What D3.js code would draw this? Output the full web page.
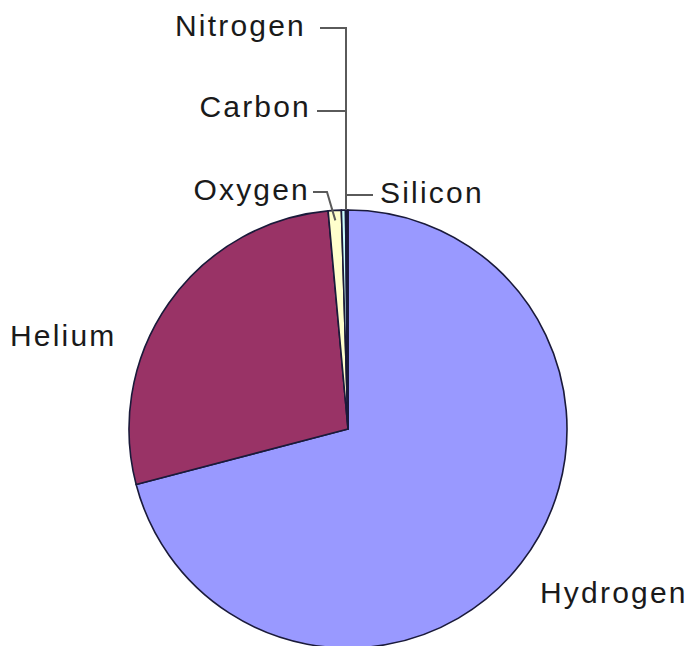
<!DOCTYPE html>
<html><head><meta charset="utf-8">
<script src="https://cdn.jsdelivr.net/npm/d3@7/dist/d3.min.js"></script>
<style>body{margin:0;background:#fff}svg{display:block}</style>
</head><body>
<script>
const categories = ["Hydrogen","Helium","Oxygen","Carbon","Nitrogen","Silicon"];
const values = [70.6, 27.5, 0.96, 0.30, 0.11, 0.07];
const colors = ["#9999FF","#993366","#FFFFCC","#CCFFFF","#660066","#FF8080"];

const W = 696, H = 646;
const cx = 348, cy = 429, R = 219;
const svg = d3.select("body").append("svg").attr("width", W).attr("height", H);
const data = categories.map((c,i)=>({name:c, value:values[i], color:colors[i]}));
const pie = d3.pie().value(d=>d.value).sort(null);
const arcs = pie(data);
const arc = d3.arc().innerRadius(0).outerRadius(R);
const g = svg.append("g").attr("transform", `translate(${cx},${cy})`);
g.selectAll("path").data(arcs).join("path")
  .attr("d", arc).attr("fill", d=>d.data.color)
  .attr("stroke", "#1a1a3a").attr("stroke-width", 1.6).attr("stroke-linejoin","round");

// label layout (page coords): text anchor point + leader polyline start
const layout = {
  Hydrogen: {x:540, y:603, anchor:"start"},
  Helium:   {x:10, y:346, anchor:"start"},
  Oxygen:   {x:310, y:200, anchor:"end", lead:[[313,192],[327,192]]},
  Carbon:   {x:311, y:117, anchor:"end", lead:[[317,111],[346,111]]},
  Nitrogen: {x:306, y:36, anchor:"end", lead:[[320,28],[346,28]]},
  Silicon:  {x:380, y:203, anchor:"start", lead:[[373,195],[347,195]]}
};
const edge = (d, r) => {
  const a = (d.startAngle + d.endAngle)/2;
  return [cx + Math.sin(a)*r, cy - Math.cos(a)*r];
};
arcs.forEach(d=>{
  const L = layout[d.data.name];
  if (L.lead) {
    const pts = L.lead.slice();
    const nm = d.data.name;
    if (nm === "Oxygen") pts.push(edge(d, R-10));
    else if (nm === "Carbon" || nm === "Nitrogen") pts.push([pts[pts.length-1][0], edge(d, R)[1]]);
    svg.append("path").attr("d", d3.line()(pts))
      .attr("fill","none").attr("stroke","#5a5a5a").attr("stroke-width",2);
  }
});
arcs.forEach(d=>{
  const L = layout[d.data.name];
  svg.append("text").attr("x", L.x).attr("y", L.y)
    .attr("text-anchor", L.anchor)
    .attr("font-family","Liberation Sans, Arial, sans-serif")
    .attr("font-size", 30).attr("letter-spacing", 2.2)
    .attr("fill","#1a1a1a").text(d.data.name);
});
</script>
</body></html>
